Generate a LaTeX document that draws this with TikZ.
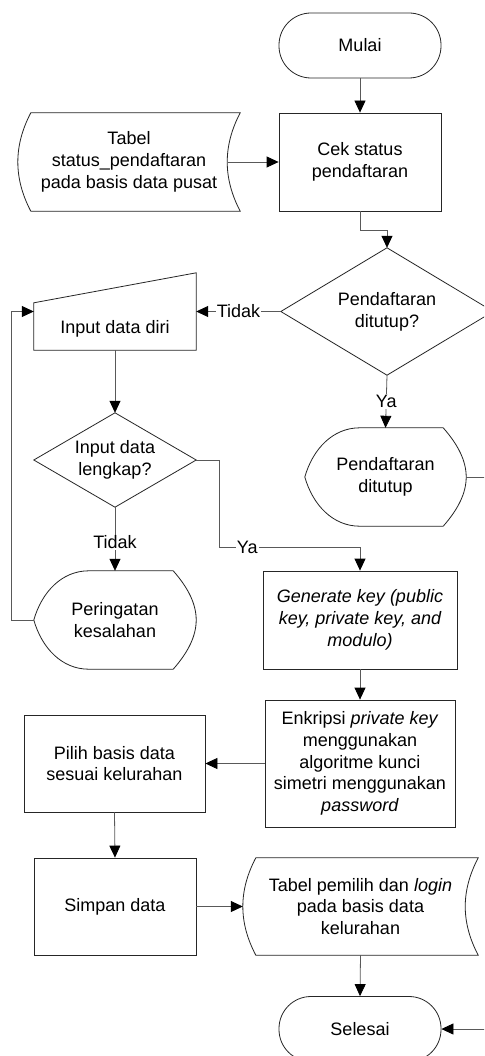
\documentclass[tikz,border=0pt]{standalone}
\usepackage{fontspec}
\setmainfont{Liberation Sans}
\usetikzlibrary{arrows.meta,calc}
\tikzset{
  shp/.style={draw=black!85, line width=0.8pt},
  box/.style={draw=none, inner sep=0pt, align=center},
  conn/.style={draw=black!65, line width=0.8pt, -{Triangle[length=12pt,width=11pt,color=black,fill=black]}},
  line/.style={draw=black!65, line width=0.8pt},
  lbl/.style={fill=white, inner sep=1pt, text=black},
  term/.style={shp, rounded corners=32pt, align=center, minimum width=162pt, minimum height=65pt},
  proc/.style={shp, align=center, inner sep=0pt}
}
\newcommand\dispshape[1]{%
 \draw[shp] let \p1=(#1.north west), \p2=(#1.south east), \p3=(#1.west) in
  (\x1,\y3) .. controls (\x1+8pt,\y3+28pt) and (\x1+28pt,\y1) .. (\x1+55pt,\y1)
  -- (\x2-23pt,\y1) .. controls (\x2-8pt,\y1-17pt) and (\x2,\y3+16pt) .. (\x2,\y3)
  .. controls (\x2,\y3-16pt) and (\x2-8pt,\y2+17pt) .. (\x2-23pt,\y2)
  -- (\x1+55pt,\y2) .. controls (\x1+28pt,\y2) and (\x1+8pt,\y3-28pt) .. cycle;}
\newcommand\storeshape[1]{%
 \draw[shp] let \p1=(#1.north west), \p2=(#1.south east) in
  (\x1+13pt,\y1) -- (\x2,\y1) .. controls (\x2-17.3pt,\y1-33pt) and (\x2-17.3pt,\y2+33pt) .. (\x2,\y2)
  -- (\x1+13pt,\y2) .. controls (\x1-4.3pt,\y2+33pt) and (\x1-4.3pt,\y1-33pt) .. cycle;}
\begin{document}
\begin{tikzpicture}[x=1pt,y=-1pt,font=\fontsize{18}{21.7}\selectfont]
\clip (0,0) rectangle (484,1056);
\fill[white] (0,0) rectangle (484,1056);
% nodes
\node[term] (mulai) at (360,45.5) {Mulai};
\node[proc, minimum width=162pt, minimum height=98pt] (cek) at (360,162) {Cek status\\pendaftaran};
\node[box, minimum width=222pt, minimum height=98pt] (tb1) at (129,162) {Tabel\\status\_pendaftaran\\pada basis data pusat};
\storeshape{tb1}
\coordinate (tb1out) at ([xshift=-12pt]tb1.east);
\node[box, minimum width=212pt, minimum height=127pt] (d1) at (387,311.5) {Pendaftaran\\ditutup?};
\draw[shp] (d1.north) -- (d1.east) -- (d1.south) -- (d1.west) -- cycle;
\node[box, minimum width=162pt, minimum height=77pt] (inp) at (115,311.5) {};
\draw[shp] (inp.south west) -- (inp.south east) -- (inp.north east) -- ([yshift=-30pt]inp.north west) -- cycle;
\node[inner sep=0pt] (inptxt) at (115,329) {Input data diri};
\node[box, minimum width=162pt, minimum height=94pt] (d2) at (115,460) {Input data\\lengkap?};
\draw[shp] (d2.north) -- (d2.east) -- (d2.south) -- (d2.west) -- cycle;
\node[box, minimum width=161pt, minimum height=98pt] (dt) at (385.5,477) {Pendaftaran\\ditutup};
\dispshape{dt}
\node[box, minimum width=162pt, minimum height=98pt] (per) at (115,620) {Peringatan\\kesalahan};
\dispshape{per}
\node[proc, minimum width=194pt, minimum height=98pt] (gen) at (360,620) {\itshape Generate key (public\\\itshape key, private key, and\\\itshape modulo)};
\node[proc, minimum width=190pt, minimum height=127pt] (enk) at (360,763.5) {Enkripsi \textit{private key}\\menggunakan\\algoritme kunci\\simetri menggunakan\\\textit{password}};
\node[proc, minimum width=181pt, minimum height=97pt] (pil) at (114.5,763.5) {Pilih basis data\\sesuai kelurahan};
\node[proc, minimum width=162pt, minimum height=97pt] (sim) at (115,906.5) {Simpan data};
\node[box, minimum width=235pt, minimum height=97pt] (tb2) at (360.5,906.5) {Tabel pemilih dan \textit{login}\\pada basis data\\kelurahan};
\storeshape{tb2}
\node[term] (sel) at (360,1029) {Selesai};
\coordinate (xr) at (495,0);
\coordinate (ya) at (219,547);
% connectors
\draw[conn] (mulai.south) -- (cek.north);
\draw[conn] (tb1out) -- (cek.west);
\draw[conn] (cek.south) -- ++(0,19) -| (d1.north);
\draw[conn] (d1.west) -- node[lbl] {Tidak} (inp.east);
\draw[conn] (d1.south) -- node[lbl] {Ya} (dt.north);
\draw[conn] (inp.south) -- (d2.north);
\draw[conn] (d2.south) -- node[lbl, pos=0.55] {Tidak} (per.north);
\draw[line] (d2.east) -| (ya);
\draw[conn] (ya) -- node[lbl, pos=0.2] {Ya} (gen.north |- ya) -- (gen.north);
\draw[conn] (per.west) -- ++(-22,0) |- (inp.west);
\draw[conn] (gen.south) -- (enk.north);
\draw[conn] (enk.west) -- (pil.east);
\draw[conn] (pil.south) -- (sim.north);
\draw[conn] (sim.east) -- (tb2.west);
\draw[conn] (tb2.south) -- (sel.north);
\draw[conn] (dt.east) -- (xr |- dt.east) -- (xr |- sel.east) -- (sel.east);
\end{tikzpicture}
\end{document}
